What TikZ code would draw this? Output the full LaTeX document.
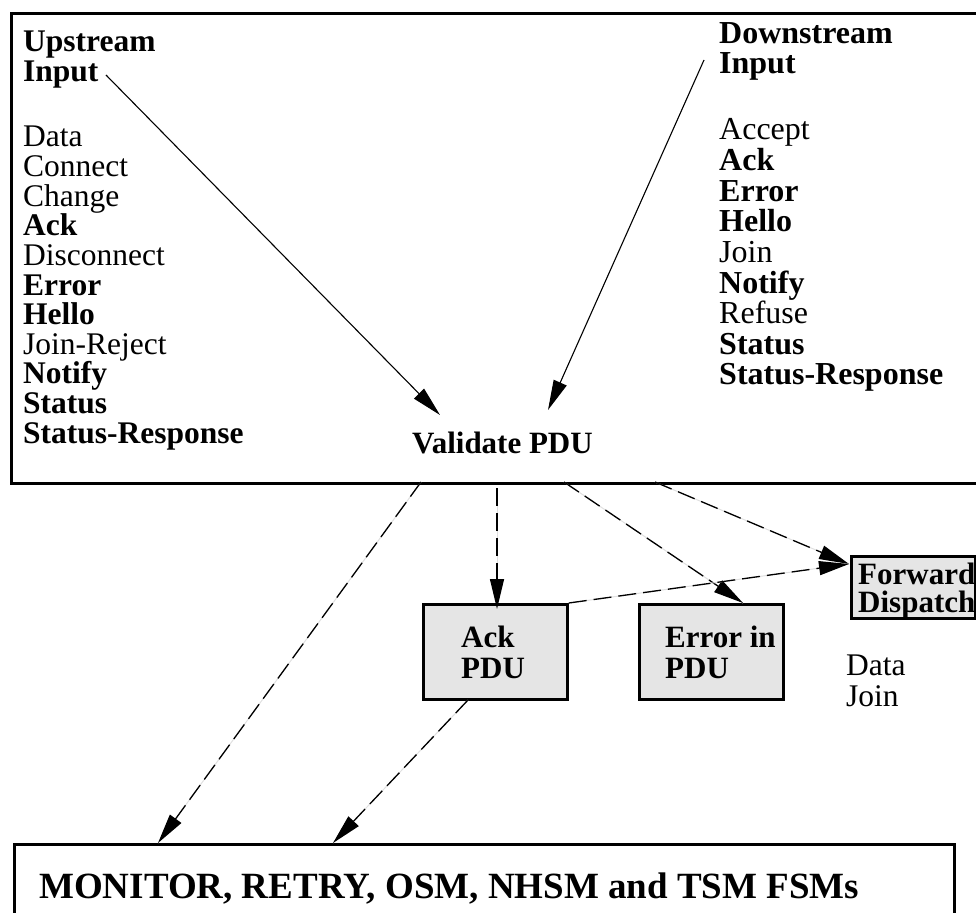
\documentclass[tikz,border=0pt]{standalone}
\usepackage{fontspec}
\setmainfont{Liberation Serif}
\usetikzlibrary{arrows.meta}
\definecolor{boxgray}{RGB}{229,229,229}

\begin{document}
\begin{tikzpicture}[x=1pt,y=-1pt,
  lbl/.style={anchor=base west, inner sep=0pt, font=\fontsize{31.5}{31.5}\selectfont},
  blbl/.style={anchor=base west, inner sep=0pt, font=\fontsize{31.5}{31.5}\selectfont\bfseries},
  rlbl/.style={anchor=base west, inner sep=0pt, font=\fontsize{32}{32}\selectfont},
  rblbl/.style={anchor=base west, inner sep=0pt, font=\fontsize{32}{32}\selectfont\bfseries},
  pdulbl/.style={anchor=base west, inner sep=0pt, font=\fontsize{31}{31}\selectfont\bfseries},
  frame/.style={draw=black, line width=2.8pt, inner sep=0pt, anchor=north west},
  pdubox/.style={frame, fill=boxgray},
  tip/.style={-{Triangle[length=30pt,width=14pt]}},
  inarrow/.style={tip, line width=1.1pt},
  outarrow/.style={tip, line width=1.3pt, dash pattern=on 18pt off 7pt,
    preaction={draw=black!12, line width=1pt, solid, -}},
]
\useasboundingbox (0,0) rectangle (976,912);

% upper frame around the PDU validation stage
\node[frame, minimum width=990pt, minimum height=470pt] (valbox) at (10,12) {};

% upstream input list
\node[blbl] (upA) at (23,52) {Upstream};
\node[blbl] (upin) at (23,82) {Input};
\foreach \t/\w [count=\i from 0] in {Data/lbl, Connect/lbl, Change/lbl, Ack/blbl,
    Disconnect/lbl, Error/blbl, Hello/blbl, Join-Reject/lbl, Notify/blbl,
    Status/blbl, Status-Response/blbl}
  \node[\w] (up\i) at (23,147+29.6*\i) {\t};

% downstream input list
\node[rblbl] (dnA) at (719,44) {Downstream};
\node[rblbl] (dnin) at (719,74) {Input};
\foreach \t/\w [count=\i from 0] in {Accept/rlbl, Ack/rblbl, Error/rblbl, Hello/rblbl,
    Join/rlbl, Notify/rblbl, Refuse/rlbl, Status/rblbl, Status-Response/rblbl}
  \node[\w] (dn\i) at (719,140+30.6*\i) {\t};

\node[pdulbl] (validate) at (412,453) {Validate PDU};

% result boxes
\node[pdubox, minimum width=144pt, minimum height=95pt] (ack) at (422,603) {};
\node[pdulbl] (ackA) at (461,647) {Ack};
\node[pdulbl] (ackB) at (461,678) {PDU};

\node[pdubox, minimum width=144pt, minimum height=95pt] (err) at (638,603) {};
\node[pdulbl] (errA) at (665,647) {Error in};
\node[pdulbl] (errB) at (665,678) {PDU};

\node[pdubox, minimum width=124pt, minimum height=62pt] (fwd) at (850,555) {};
\node[pdulbl] (fwdA) at (858,584) {Forward};
\node[pdulbl] (fwdB) at (858,612) {Dispatch};
\node[lbl] (fwdC) at (846,675) {Data};
\node[lbl] (fwdD) at (846,706) {Join};

% state machines
\node[frame, minimum width=940pt, minimum height=110pt] (fsm) at (13,843) {};
\node[anchor=base west, inner sep=0pt, font=\fontsize{37}{37}\selectfont\bfseries]
  (fsmT) at (39,898) {MONITOR, RETRY, OSM, NHSM and TSM FSMs};

% connector end points
\coordinate (uStart) at (106,75);
\coordinate (uEnd) at (440,415);
\coordinate (dStart) at (704,60);
\coordinate (dEnd) at (548,410);
\coordinate (o1) at (421,482);
\coordinate (o2) at (497,488);
\coordinate (o3) at (564,482);
\coordinate (o4) at (655,482);
\coordinate (ackIn) at (497,609);
\coordinate (errIn) at (743,603);
\coordinate (fwdIn) at (849,564);
\coordinate (ackOut) at (468,700);
\coordinate (fsmA) at (158,843);
\coordinate (fsmB) at (333,843);

\draw[inarrow] (uStart) -- (uEnd);
\draw[inarrow] (dStart) -- (dEnd);

\draw[outarrow] (o1) -- (fsmA);
\draw[outarrow] (o2) -- (ackIn);
\draw[outarrow] (o3) -- (errIn);
\draw[outarrow] (o4) -- (fwdIn);
\draw[outarrow] (ack.north east) -- (fwdIn);
\draw[outarrow] (ackOut) -- (fsmB);
\end{tikzpicture}
\end{document}
